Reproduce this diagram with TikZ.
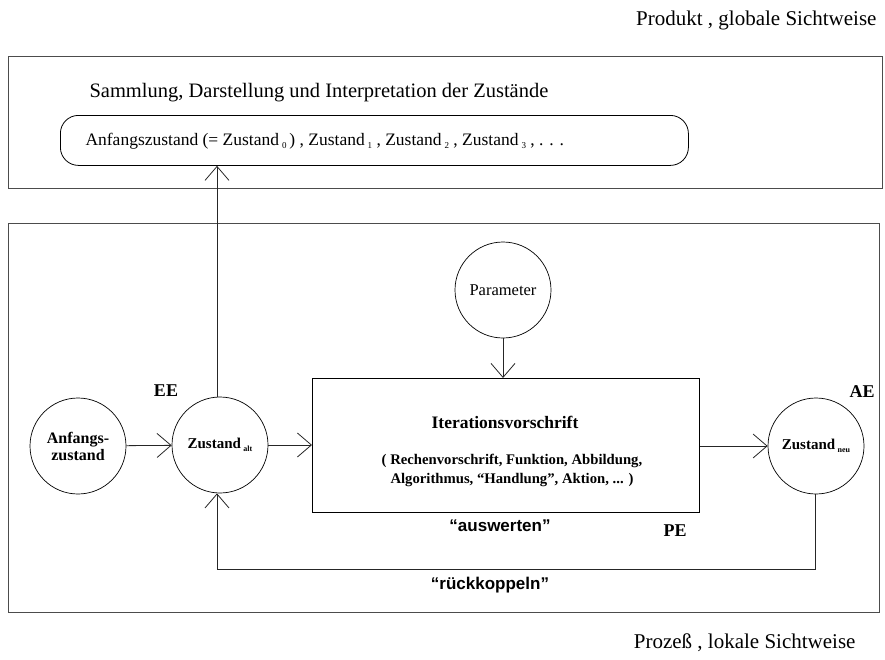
\documentclass[tikz,border=0pt]{standalone}
\usepackage{fontspec}
\setmainfont{Liberation Serif}
\setsansfont{Liberation Sans}
\usetikzlibrary{arrows.meta}
\newcommand{\mysub}[2][8]{\raisebox{-0.4ex}{\fontsize{#1}{#1}\selectfont #2}}
\tikzset{
  frame/.style={draw=black!70, line width=1pt},
  circ/.style={draw, circle, line width=0.7pt, minimum size=96pt, inner sep=0pt, align=center, font=\fontsize{15}{16.5}\selectfont\bfseries},
  conn/.style={draw=black!85, line width=0.8pt, -{Straight Barb[length=14pt,width=24pt,line width=0.8pt]}},
  lbl/.style={font=\fontsize{18}{20}\selectfont\bfseries},
  big/.style={font=\fontsize{21}{24}\selectfont},
  sanslbl/.style={font=\sffamily\bfseries\fontsize{17}{19}\selectfont},
}
\begin{document}
\begin{tikzpicture}[x=1pt,y=-1pt]
\useasboundingbox (0,0) rectangle (885,659);
% frames
\draw[frame] (8,56) rectangle (882,188);
\draw[frame] (8,223) rectangle (879,612);
% outer texts
\node[big, anchor=east] (prod) at (880,20) {Produkt , globale Sichtweise};
\node[big, anchor=east] (proz) at (859,643) {Proze\ss{} , lokale Sichtweise};
% collection
\node[anchor=west, font=\fontsize{20.5}{22}\selectfont] (samm) at (86,93) {Sammlung, Darstellung und Interpretation der Zust\"ande};
\node[draw, line width=0.8pt, rounded corners=18pt, minimum width=628pt, minimum height=50pt, anchor=north west] (coll) at (60,115) {};
\node[anchor=west, font=\fontsize{17.5}{19}\selectfont] (colltxt) at (82,141) {Anfangszustand (= Zustand\,\mysub[9]{0}\,) , Zustand\,\mysub[9]{1} , Zustand\,\mysub[9]{2} , Zustand\,\mysub[9]{3} , . . .};
% circles
\node[circ, font=\fontsize{16}{17}\selectfont\bfseries] (anf) at (78,446) {Anfangs-\\zustand};
\node[circ] (alt) at (220,445) {Zustand\,\mysub{alt}};
\node[circ, font=\fontsize{16.5}{18}\selectfont] (par) at (503,290) {Parameter};
\node[circ] (neu) at (816,446) {Zustand\,\mysub{neu}};
% iteration box
\node[draw, line width=0.8pt, minimum width=387pt, minimum height=134pt, anchor=north west] (it) at (312,378) {};
\node[font=\fontsize{17.5}{19}\selectfont\bfseries] (ittitle) at (505,422) {Iterationsvorschrift};
\node[align=center, font=\fontsize{14.7}{19}\selectfont\bfseries] (itsub) at (512,470) {( Rechenvorschrift, Funktion, Abbildung,\\Algorithmus, ``Handlung'', Aktion, ... )};
% labels
\node[lbl] (ee) at (166,391) {EE};
\node[lbl] (ae) at (862,392) {AE};
\node[lbl] (pe) at (675,531) {PE};
\node[sanslbl] (ausw) at (500,526) {``auswerten''};
\node[sanslbl] (rueck) at (490,585) {``r\"uckkoppeln''};
% connectors
\draw[conn] (anf) -- (alt);
\draw[conn] (alt) -- (it.west |- alt);
\draw[conn] (par) -- (it.north -| par);
\draw[conn] (it.east |- neu) -- (neu);
\coordinate (u1) at (217,0);
\draw[conn] (alt.north -| u1) -- (coll.south -| u1);
\coordinate (f1) at (815,569);
\coordinate (f2) at (217,569);
\draw[conn] (neu.south -| f1) -- (f1) -- (f2) -- (f2 |- alt.south);
\end{tikzpicture}
\end{document}
